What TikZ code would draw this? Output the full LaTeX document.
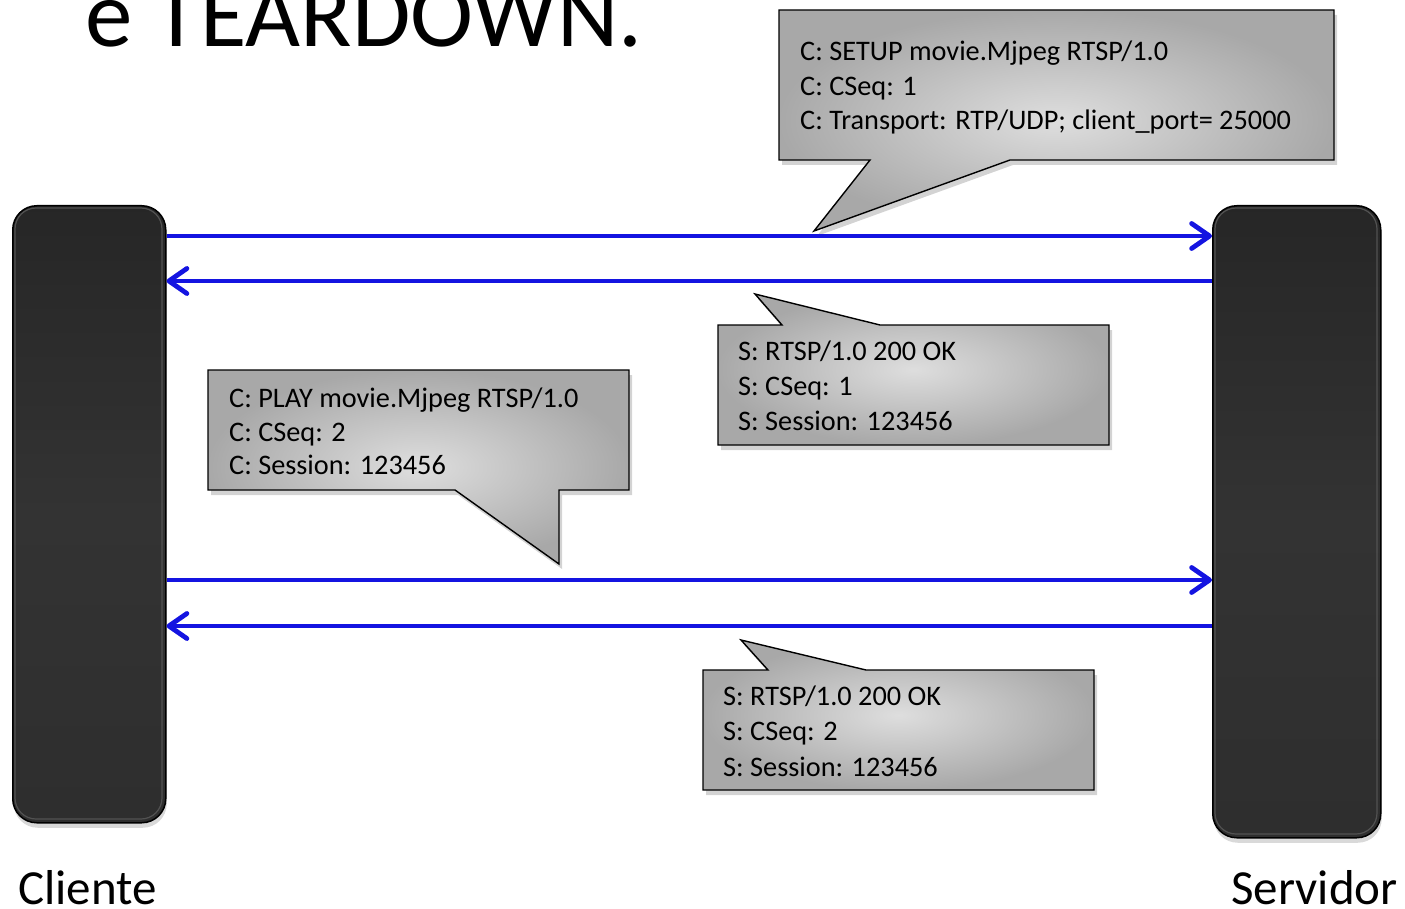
\documentclass[tikz,border=0pt]{standalone}
\usepackage{fontspec}
\setmainfont{Carlito}
\usetikzlibrary{arrows.meta,shadows,calc}
\definecolor{arrowblue}{RGB}{20,20,225}
\tikzset{
  pillar/.style={draw=black, line width=1.5pt, top color=black!85, bottom color=black!82,
    middle color=black!80, rounded corners=24pt,
    inner sep=0pt, anchor=north west,
    drop shadow={shadow xshift=1pt, shadow yshift=-5pt, opacity=0.3}},
  rim/.style={draw=black!68, line width=1.2pt, rounded corners=21pt},
  bubble/.style={draw=black, line width=1.4pt, inner color=black!13, outer color=black!34,
    drop shadow={shadow xshift=3pt, shadow yshift=-5pt, opacity=0.35}},
  msg/.style={anchor=base west, inner sep=0pt, font=\fontsize{28.3}{34}\selectfont},
  flow/.style={draw=arrowblue, line width=4.8pt,
    -{Straight Barb[length=18pt,width=25pt,line cap=round,line join=round]}},
  label/.style={inner sep=0pt, font=\fontsize{49}{49}\selectfont}
}
\begin{document}
\begin{tikzpicture}[x=1pt,y=-1pt]
\useasboundingbox (0,0) rectangle (1405,909);

% title
\node[anchor=base west, inner sep=0pt, font=\fontsize{95}{95}\selectfont] (title) at (85,47) {e TEARDOWN.};

% pillars
\node[pillar, minimum width=153pt, minimum height=617pt] (cli) at (12,205) {};
\node[pillar, minimum width=168pt, minimum height=632pt] (srv) at (1212,205) {};
\draw[rim] (15,208) rectangle (162,819);
\draw[rim] (1215,208) rectangle (1377,834);

% callouts
\shade[bubble] (779,10) -- (1334,10) -- (1334,160) -- (1010,160) -- (814,231) -- (870,160) -- (779,160) -- cycle;
\shade[bubble] (718,325) -- (782,325) -- (755,294) -- (880,325) -- (1109,325) -- (1109,445) -- (718,445) -- cycle;
\shade[bubble] (208,370) -- (629,370) -- (629,490) -- (559,490) -- (559,564) -- (455,490) -- (208,490) -- cycle;
\shade[bubble] (703,670) -- (768,670) -- (741,640) -- (866,670) -- (1094,670) -- (1094,790) -- (703,790) -- cycle;

\node[msg] (m1a) at (800,61) {C: SETUP movie.Mjpeg RTSP/1.0};
\node[msg] (m1b) at (800,96) {C: CSeq: 1};
\node[msg] (m1c) at (800,130) {C: Transport: RTP/UDP; client\_port= 25000};

\node[msg] (m2a) at (738,360) {S: RTSP/1.0 200 OK};
\node[msg] (m2b) at (738,395) {S: CSeq: 1};
\node[msg] (m2c) at (738,430) {S: Session: 123456};

\node[msg] (m3a) at (229,407) {C: PLAY movie.Mjpeg RTSP/1.0};
\node[msg] (m3b) at (229,441) {C: CSeq: 2};
\node[msg] (m3c) at (229,474) {C: Session: 123456};

\node[msg] (m4a) at (723,705) {S: RTSP/1.0 200 OK};
\node[msg] (m4b) at (723,740) {S: CSeq: 2};
\node[msg] (m4c) at (723,776) {S: Session: 123456};

% connector end points
\coordinate (c1) at (cli.east |- 0,236);
\coordinate (s1) at (srv.west |- 0,236);
\coordinate (c2) at (cli.east |- 0,281);
\coordinate (s2) at (srv.west |- 0,281);
\coordinate (c3) at (cli.east |- 0,580);
\coordinate (s3) at (srv.west |- 0,580);
\coordinate (c4) at (cli.east |- 0,626);
\coordinate (s4) at (srv.west |- 0,626);

\draw[flow] (c1) -- (s1);
\draw[flow] (s2) -- (c2);
\draw[flow] (c3) -- (s3);
\draw[flow] (s4) -- (c4);

% labels
\node[label, anchor=base west] (lcli) at (18,904) {Cliente};
\node[label, anchor=base east] (lsrv) at (1398,904) {Servidor};
\end{tikzpicture}
\end{document}
